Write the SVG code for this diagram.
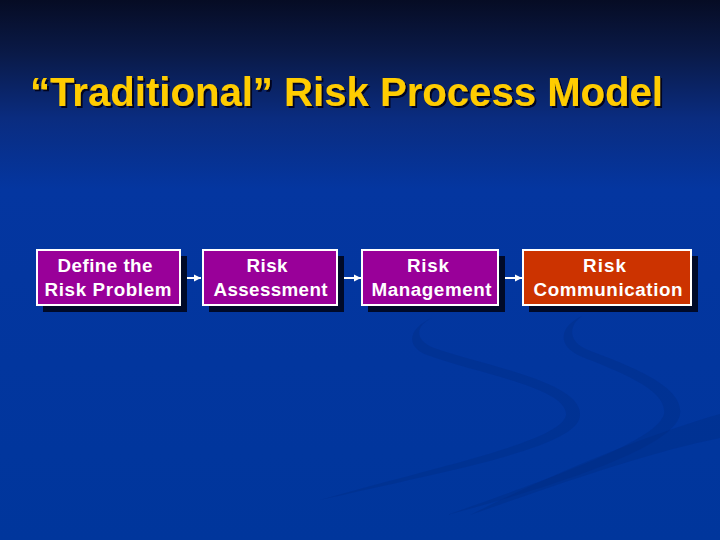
<svg xmlns="http://www.w3.org/2000/svg" width="720" height="540" viewBox="0 0 720 540">
<defs>
<linearGradient id="bg" x1="0" y1="0" x2="0" y2="1">
<stop offset="0" stop-color="#060c24"/>
<stop offset="0.1" stop-color="#0a1a48"/>
<stop offset="0.22" stop-color="#0a2c80"/>
<stop offset="0.35" stop-color="#0436a0"/>
<stop offset="1" stop-color="#00369c"/>
</linearGradient>
<filter id="tshadow" x="-5%" y="-20%" width="110%" height="150%">
<feDropShadow dx="2" dy="2" stdDeviation="0.6" flood-color="#000018" flood-opacity="0.9"/>
</filter>
<marker id="ah" markerWidth="8" markerHeight="8" refX="7" refY="4" orient="auto" markerUnits="userSpaceOnUse">
<path d="M0,0.5 L7,4 L0,7.5 Z" fill="#ffffff"/>
</marker>
<style>
.box{stroke:#ffffff;stroke-width:2}
.shadow{fill:#000a28}
.lbl{font-family:"Liberation Sans",Arial,sans-serif;font-weight:bold;font-size:18.8px;fill:#ffffff;text-anchor:middle}
.title{font-family:"Liberation Sans",Arial,sans-serif;font-weight:bold;font-size:40px;fill:#ffcc00}
.conn{stroke:#ffffff;stroke-width:2;fill:none}
.swoosh{fill:#002a80;opacity:0.33}
</style>
</defs>
<rect x="0" y="0" width="720" height="540" fill="url(#bg)"/>
<g id="background-swooshes">
<path class="swoosh" d="M432,318 C408,328 404,348 430,356 C480,374 568,388 566,415 C562,442 430,468 320,500 C440,472 580,448 580,415 C582,382 485,366 434,348 C414,340 415,326 432,318 Z"/>
<path class="swoosh" d="M582,316 C560,326 556,345 580,356 C620,372 668,390 664,414 C658,440 560,475 447,515 C570,482 676,445 680,414 C684,386 630,366 588,350 C568,342 568,326 582,316 Z"/>
<path class="swoosh" d="M720,414 C650,434 560,470 470,515 C570,480 650,452 720,438 Z"/>
</g>
<g id="title">
<text class="title" x="30" y="106" filter="url(#tshadow)" textLength="633" lengthAdjust="spacingAndGlyphs">“Traditional” Risk Process Model</text>
</g>
<g id="connectors">
<line class="conn" x1="181" y1="278" x2="201" y2="278" marker-end="url(#ah)"/>
<line class="conn" x1="338" y1="278" x2="361" y2="278" marker-end="url(#ah)"/>
<line class="conn" x1="499" y1="278" x2="522" y2="278" marker-end="url(#ah)"/>
</g>
<g id="node-define">
<rect class="shadow" x="43" y="256" width="144" height="56"/>
<rect class="box" x="37" y="250" width="143" height="55" fill="#990099"/>
<text class="lbl" x="105" y="272" textLength="95" lengthAdjust="spacing">Define the</text>
<text class="lbl" x="108" y="296" textLength="127" lengthAdjust="spacing">Risk Problem</text>
</g>
<g id="node-assessment">
<rect class="shadow" x="209" y="256" width="135" height="56"/>
<rect class="box" x="203" y="250" width="134" height="55" fill="#990099"/>
<text class="lbl" x="267" y="272" textLength="41" lengthAdjust="spacing">Risk</text>
<text class="lbl" x="270.5" y="296" textLength="114" lengthAdjust="spacing">Assessment</text>
</g>
<g id="node-management">
<rect class="shadow" x="368" y="256" width="137" height="56"/>
<rect class="box" x="362" y="250" width="136" height="55" fill="#990099"/>
<text class="lbl" x="428" y="272" textLength="42" lengthAdjust="spacing">Risk</text>
<text class="lbl" x="431.5" y="296" textLength="120" lengthAdjust="spacing">Management</text>
</g>
<g id="node-communication">
<rect class="shadow" x="529" y="256" width="169" height="56"/>
<rect class="box" x="523" y="250" width="168" height="55" fill="#cc3300"/>
<text class="lbl" x="604.5" y="272" textLength="43" lengthAdjust="spacing">Risk</text>
<text class="lbl" x="608" y="296" textLength="149" lengthAdjust="spacing">Communication</text>
</g>
</svg>
